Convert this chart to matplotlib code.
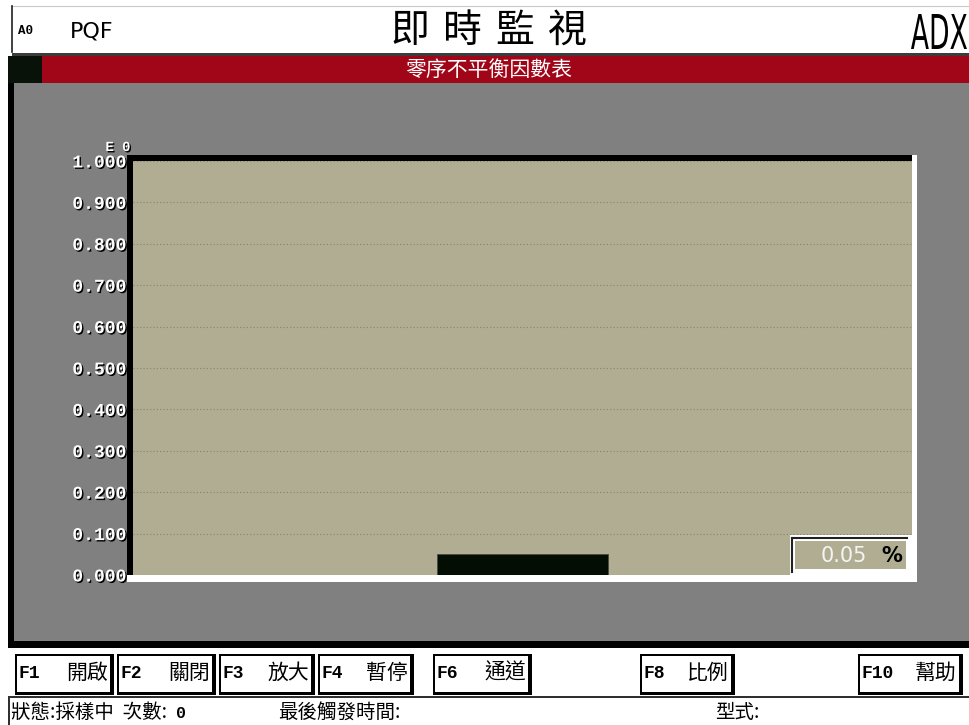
"""即時監視 - 零序不平衡因數表 畫面重現."""
import matplotlib
matplotlib.use("Agg")
import matplotlib.pyplot as plt
import matplotlib.patheffects as pe
from matplotlib.font_manager import FontProperties
from matplotlib.patches import PathPatch, Rectangle
from matplotlib.textpath import TextPath
from matplotlib.transforms import Affine2D

# ---- 資料 ----
categories = ["零序不平衡"]
values = [0.05]
y_ticks = [0.0, 0.1, 0.2, 0.3, 0.4, 0.5, 0.6, 0.7, 0.8, 0.9, 1.0]
unit = "%"
title = "即時監視"
subtitle = "零序不平衡因數表"
device = "ADX"
channel = "A0"
mode = "PQF"
btn_keys = ["F1", "F2", "F3", "F4", "F6", "F8", "F10"]
btn_names = ["開啟", "關閉", "放大", "暫停", "通道", "比例", "幫助"]
status_texts = ["狀態:採樣中  次數:", "最後觸發時間:", "型式:"]
count = 0

# ---- 樣式 ----
W, H = 969, 725
CJK = ["Noto Sans CJK TC", "DejaVu Sans"]
MONO = ["Liberation Mono", "DejaVu Sans Mono"]
FACE = "#b1ad93"
GRAY = "#808080"
RED = "#a00618"
shadow = [pe.withSimplePatchShadow(offset=(1, -1), shadow_rgbFace="black", alpha=1.0)]

fig = plt.figure(figsize=(W / 100, H / 100), dpi=100)
bg = fig.add_axes([0, 0, 1, 1])
bg.set_xlim(0, W)
bg.set_ylim(H, 0)
bg.axis("off")


def rect(a, x0, y0, x1, y1, color, z=1):
    a.add_patch(Rectangle((x0, y0), x1 - x0, y1 - y0, facecolor=color,
                          edgecolor="none", zorder=z))


def boxed_text(a, s, x0, y0, x1, y1, color="black"):
    # 把文字拉伸到指定的方框 (窄長字體)
    tp = TextPath((0, 0), s, size=1, prop=FontProperties(family="DejaVu Sans"))
    ext = tp.get_extents()
    tr = (Affine2D().translate(-ext.x0, -ext.y0)
          .scale((x1 - x0) / ext.width, -(y1 - y0) / ext.height)
          .translate(x0, y1))
    a.add_patch(PathPatch(tr.transform_path(tp), facecolor=color, edgecolor="none", lw=0))


# 標題列
bg.plot([12, W], [6, 6], color="#c8c8c8", lw=0.8)
bg.plot([12, 12], [6, 52], color="#202020", lw=1.2)
rect(bg, 12, 53, W, 56, "#3c3c3c")
bg.text(18, 31, channel, fontsize=9, fontweight="bold", family=MONO, va="center")
bg.text(70, 31, mode, fontsize=16, family="DejaVu Sans", va="center")
for i, ch in enumerate(title):
    bg.text(410 + i * 52.3, 31, ch, fontsize=28, family=CJK, ha="center", va="center")
boxed_text(bg, device, 911, 14, 967, 49)

# 紅色標題條 + 灰色面板
rect(bg, 8, 56, W, 83, RED)
rect(bg, 8, 56, 42, 83, "#081208")
bg.text(489, 70, subtitle, fontsize=15, family=CJK, color="white", ha="center", va="center")
rect(bg, 14, 83, W, 641, GRAY)
rect(bg, 8, 83, 14, 648, "black")
rect(bg, 8, 641, W, 648, "black")

# 圖框 (黑色左/上, 白色右/下)
rect(bg, 127, 155, 917, 582, "white", z=2)
rect(bg, 127, 155, 912, 575, "black", z=3)
bg.text(118, 147, "E 0", fontsize=10, fontweight="bold", family=MONO, color="white",
        ha="center", va="center", path_effects=shadow)

# 圖表
ax = fig.add_axes([133 / W, (H - 575) / H, 779 / W, 414 / H])
ax.set_zorder(2)
ax.set_facecolor(FACE)
ax.bar(range(len(categories)), values, width=1.0, color="#030d03",
       edgecolor="#4a4a40", linewidth=0.6, zorder=3)
ax.set_xlim(-2.265, 2.265)
ax.set_ylim(y_ticks[0], y_ticks[-1])
ax.set_yticks(y_ticks)
ax.set_yticklabels([f"{t:.3f}" for t in y_ticks], family=MONO, fontweight="bold",
                   fontsize=13, color="white")
for lab in ax.get_yticklabels():
    lab.set_path_effects(shadow)
ax.tick_params(axis="y", length=0, pad=5)
ax.set_xticks([])
ax.grid(axis="y", linestyle=(0, (1, 2)), color="#85826e", linewidth=0.8, zorder=1)
ax.set_axisbelow(True)
for s in ax.spines.values():
    s.set_visible(False)

# 數值框
ov = fig.add_axes([0, 0, 1, 1])
ov.set_zorder(3)
ov.patch.set_visible(False)
ov.set_xlim(0, W)
ov.set_ylim(H, 0)
ov.axis("off")
rect(ov, 790, 535, 917, 582, "white")
ov.plot([792, 907], [538, 538], color="#202020", lw=1.5)
ov.plot([792, 792], [538, 572], color="#202020", lw=1.5)
rect(ov, 795, 541, 906, 569, FACE)
ov.text(867, 556, f"{values[0]:.2f}", fontsize=15, color="#f4f4f4",
        family="DejaVu Sans", ha="right", va="center")
ov.text(892, 556, unit, fontsize=15, fontweight="bold", color="black",
        family="DejaVu Sans", ha="center", va="center")

# 功能鍵
btn_x = [(15, 111), (117, 213), (219, 312), (318, 411), (433, 529), (640, 732), (858, 960)]
for (x0, x1), key, name in zip(btn_x, btn_keys, btn_names):
    rect(ov, x0, 654, x1 + 3, 695, "black")
    rect(ov, x0 + 2, 656, x1 - 1, 692, "white")
    ov.text(x0 + 4, 674, key, fontsize=13, fontweight="bold", family=MONO, va="center")
    ov.text(x1 - 3, 673, name, fontsize=15, family=CJK, ha="right", va="center")

# 狀態列
rect(ov, 8, 696, W, 698, "#303030")
rect(ov, 8, 698, 10, H, "#303030")
for x, txt in zip([11, 278, 715], status_texts):
    ov.text(x, 712, txt, fontsize=14, family=CJK, va="center")
ov.text(176, 713, str(count), fontsize=12, fontweight="bold", family=MONO, va="center")

fig.savefig("out.png", dpi=100)
